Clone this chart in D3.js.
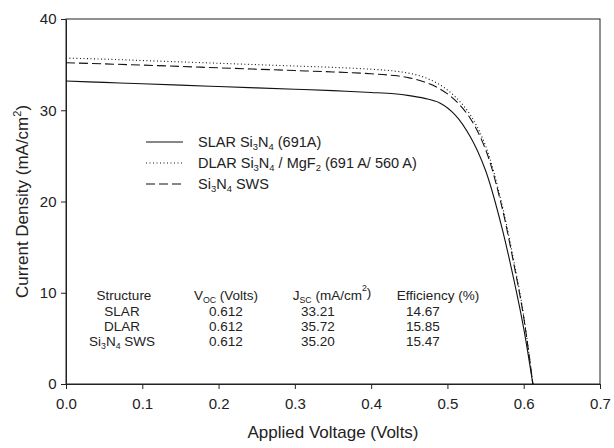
<!DOCTYPE html>
<html>
<head>
<meta charset="utf-8">
<script src="https://cdn.jsdelivr.net/npm/d3@7"></script>
<style>
  body { margin: 0; background: #fff; }
  svg { font-family: "Liberation Sans", Arial, sans-serif; }
</style>
</head>
<body>
<svg id="chart" width="614" height="448"></svg>
<script>
// data
var voltage = [0, 0.05, 0.1, 0.15, 0.2, 0.25, 0.3, 0.35, 0.4, 0.43, 0.45, 0.47, 0.49, 0.51, 0.53, 0.55, 0.57, 0.59, 0.6, 0.612];
var slar = [33.21, 33.05, 32.9, 32.75, 32.6, 32.45, 32.3, 32.15, 31.95, 31.8, 31.6, 31.3, 30.8, 29.5, 27.1, 23.4, 17.6, 10.3, 6.1, 0];
var dlar = [35.72, 35.6, 35.45, 35.3, 35.15, 35.0, 34.85, 34.7, 34.5, 34.3, 34.05, 33.6, 32.8, 31.5, 29.5, 26.1, 20.2, 12.2, 7.5, 0];
var sws = [35.2, 35.08, 34.95, 34.8, 34.65, 34.5, 34.35, 34.2, 34.0, 33.8, 33.55, 33.1, 32.35, 31.1, 29.1, 25.7, 19.9, 11.9, 7.3, 0];

var xTicks = [0, 0.1, 0.2, 0.3, 0.4, 0.5, 0.6, 0.7];
var yTicks = [0, 10, 20, 30, 40];

var structures = ["SLAR", "DLAR", "Si3N4 SWS"];
var vocValues = ["0.612", "0.612", "0.612"];
var jscValues = ["33.21", "35.72", "35.20"];
var effValues = ["14.67", "15.85", "15.47"];

var svg = d3.select("#chart");
var plotLeft = 66, plotRight = 600, plotTop = 19, plotBottom = 384;

var x = d3.scaleLinear().domain([0, 0.7]).range([plotLeft, plotRight]);
var y = d3.scaleLinear().domain([0, 40]).range([plotBottom, plotTop]);

// frame
svg.append("rect")
  .attr("x", plotLeft).attr("y", plotTop)
  .attr("width", plotRight - plotLeft).attr("height", plotBottom - plotTop)
  .attr("fill", "none").attr("stroke", "#222").attr("stroke-width", 1);

var xAxis = svg.append("g")
  .attr("transform", "translate(0," + plotBottom + ")")
  .call(d3.axisBottom(x).tickValues(xTicks).tickFormat(d3.format(".1f")).tickSize(5).tickSizeOuter(0));
var yAxis = svg.append("g")
  .attr("transform", "translate(" + plotLeft + ",0)")
  .call(d3.axisLeft(y).tickValues(yTicks).tickFormat(d3.format("d")).tickSize(5).tickSizeOuter(0));

[xAxis, yAxis].forEach(function(a) {
  a.select(".domain").attr("stroke", "#222");
  a.selectAll(".tick line").attr("stroke", "#222");
  a.selectAll("text").attr("font-size", 15).attr("fill", "#222")
    .attr("font-family", "Liberation Sans, Arial, sans-serif");
});
xAxis.selectAll("text").attr("dy", "1.1em");
yAxis.selectAll("text").attr("dx", "-0.1em");

// axis titles
svg.append("text")
  .attr("x", (plotLeft + plotRight) / 2).attr("y", 438)
  .attr("text-anchor", "middle").attr("font-size", 17).attr("fill", "#222")
  .text("Applied Voltage (Volts)");

var yt = svg.append("text")
  .attr("transform", "translate(28," + ((plotTop + plotBottom) / 2) + ") rotate(-90)")
  .attr("text-anchor", "middle").attr("font-size", 17).attr("fill", "#222");
yt.append("tspan").text("Current Density (mA/cm");
yt.append("tspan").attr("font-size", 11).attr("dy", -7).text("2");
yt.append("tspan").attr("dy", 7).text(")");

// curves
var line = d3.line()
  .x(function(d) { return x(d[0]); })
  .y(function(d) { return y(d[1]); })
  .curve(d3.curveCatmullRom.alpha(0.5));

var series = [
  { values: slar, dash: null },
  { values: dlar, dash: "1,2.5" },
  { values: sws, dash: "9,4" }
];

series.forEach(function(s) {
  svg.append("path")
    .datum(voltage.map(function(v, i) { return [v, s.values[i]]; }))
    .attr("d", line)
    .attr("fill", "none")
    .attr("stroke", "#111")
    .attr("stroke-width", 1.1)
    .attr("stroke-dasharray", s.dash);
});

// legend
var legendRows = [
  [["SLAR Si", 0], ["3", 1], ["N", 0], ["4", 1], [" (691A)", 0]],
  [["DLAR Si", 0], ["3", 1], ["N", 0], ["4", 1], [" / MgF", 0], ["2", 1], [" (691 A/ 560 A)", 0]],
  [["Si", 0], ["3", 1], ["N", 0], ["4", 1], [" SWS", 0]]
];

function richText(t, parts, size) {
  var shift = 0;
  parts.forEach(function(p) {
    var target = p[1] ? 3 : 0;
    t.append("tspan")
      .attr("dy", target - shift)
      .attr("font-size", p[1] ? size * 0.65 : size)
      .text(p[0]);
    shift = target;
  });
}

legendRows.forEach(function(row, i) {
  var ly = 147 + i * 21;
  svg.append("line")
    .attr("x1", 146).attr("x2", 183)
    .attr("y1", ly - 5).attr("y2", ly - 5)
    .attr("stroke", "#111").attr("stroke-width", 1.1)
    .attr("stroke-dasharray", series[i].dash);
  var t = svg.append("text").attr("x", 198).attr("y", ly).attr("fill", "#222");
  richText(t, row, 14.5);
});

// table
var tableSize = 13.5;
var headY = 300;
var colX = [122, 226, 318, 423];
var headX = [124, 226, 332, 438];

function header(i, parts) {
  var t = svg.append("text").attr("x", headX[i]).attr("y", headY).attr("text-anchor", "middle").attr("fill", "#222");
  richText(t, parts, tableSize);
  return t;
}
header(0, [["Structure", 0]]);
header(1, [["V", 0], ["OC", 1], [" (Volts)", 0]]);
var h2 = header(2, [["J", 0], ["SC", 1], [" (mA/cm", 0]]);
h2.append("tspan").attr("dy", -9).attr("font-size", tableSize * 0.65).text("2");
h2.append("tspan").attr("dy", 6).attr("font-size", tableSize).text(")");
header(3, [["Efficiency (%)", 0]]);

var structParts = {
  "SLAR": [["SLAR", 0]],
  "DLAR": [["DLAR", 0]],
  "Si3N4 SWS": [["Si", 0], ["3", 1], ["N", 0], ["4", 1], [" SWS", 0]]
};

structures.forEach(function(s, i) {
  var ry = headY + 16 + i * 15;
  var t0 = svg.append("text").attr("x", colX[0]).attr("y", ry).attr("text-anchor", "middle").attr("fill", "#222");
  richText(t0, structParts[s], tableSize);
  [vocValues[i], jscValues[i], effValues[i]].forEach(function(v, j) {
    svg.append("text").attr("x", colX[j + 1]).attr("y", ry)
      .attr("text-anchor", "middle").attr("font-size", tableSize).attr("fill", "#222")
      .text(v);
  });
});
</script>
</body>
</html>
